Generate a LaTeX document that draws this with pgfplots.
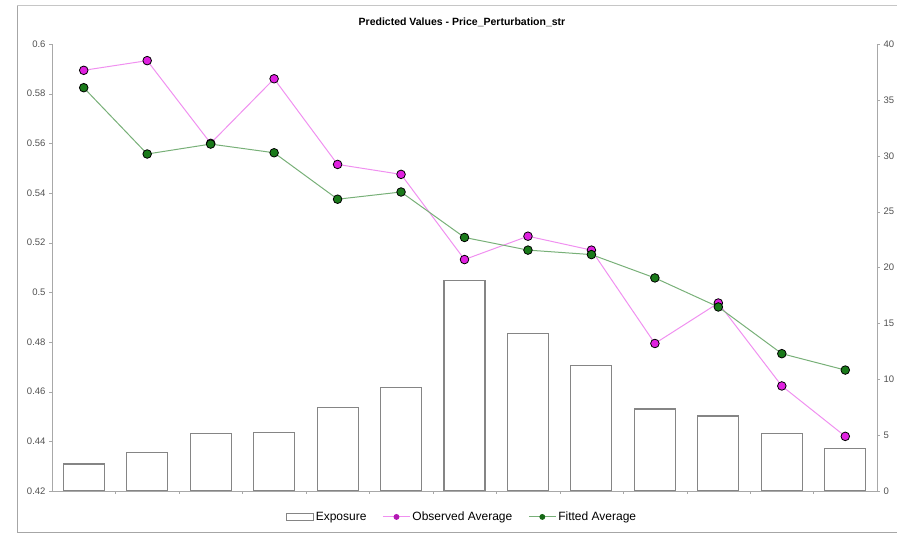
\documentclass[border=0pt]{standalone}
\usepackage{pgfplots}
\pgfplotsset{compat=1.18}
\usepackage{fontspec}
\setmainfont{Liberation Sans}
\definecolor{obsfill}{HTML}{E020E0}
\definecolor{obsline}{HTML}{F090F0}
\definecolor{fitfill}{HTML}{1A7A1A}
\definecolor{fitline}{HTML}{78B078}
\definecolor{axgray}{HTML}{A8A8A8}
\definecolor{bargray}{HTML}{858585}
\definecolor{labgray}{HTML}{505050}
\pgfplotstableread{
x exposure observed fitted
1 2.42 0.5894 0.5824
2 3.46 0.5933 0.5557
3 5.16 0.5600 0.5597
4 5.25 0.5860 0.5562
5 7.49 0.5515 0.5375
6 9.25 0.5475 0.5404
7 18.8 0.5132 0.5221
8 14.1 0.5226 0.5170
9 11.19 0.5170 0.5152
10 7.34 0.4794 0.5058
11 6.71 0.4957 0.4941
12 5.16 0.4623 0.4753
13 3.79 0.4420 0.4687
}\datatable
\begin{document}
\begin{tikzpicture}
\useasboundingbox (0,0) rectangle (897pt,535pt);
\draw[gray!70, line width=1pt] (897pt,2pt) -- (17pt,2pt) -- (17pt,529pt);
\draw[gray!45, line width=1pt] (17pt,529pt) -- (897pt,529pt);
\node[font=\fontsize{10.5}{12}\selectfont\bfseries] at (462pt,513pt) {Predicted Values - Price\_Perturbation\_str};
\begin{axis}[
  at={(52pt,44pt)}, anchor=south west, scale only axis,
  width=825pt, height=447pt,
  xmin=0.5, xmax=13.5, ymin=0, ymax=40,
  axis x line*=bottom, axis y line*=right,
  axis line style={axgray, -},
  xtick={1.5,2.5,...,12.5}, xticklabels={},
  ytick={0,5,10,15,20,25,30,35,40},
  tick align=outside, major tick length=3pt,
  tick style={axgray},
  yticklabel style={font=\fontsize{9.5}{11}\selectfont, text=labgray},
  /pgf/number format/assume math mode=true,
  ybar, bar width=41pt,
]
\addplot[draw=bargray, fill=white, line width=1.1pt] table[x=x, y=exposure] {\datatable};
\end{axis}
\begin{axis}[
  at={(52pt,44pt)}, anchor=south west, scale only axis,
  width=825pt, height=447pt,
  xmin=0.5, xmax=13.5, ymin=0.42, ymax=0.6,
  hide x axis, axis y line*=left,
  axis line style={axgray, -},
  ytick={0.42,0.44,0.46,0.48,0.5,0.52,0.54,0.56,0.58,0.6},
  yticklabels={0.42,0.44,0.46,0.48,0.5,0.52,0.54,0.56,0.58,0.6},
  tick align=outside, major tick length=3pt,
  tick style={axgray},
  yticklabel style={font=\fontsize{9.5}{11}\selectfont, text=labgray},
  legend style={at={(0.497,-0.058)}, anchor=center, draw=none, fill=none,
    font=\fontsize{12}{14}\selectfont, legend columns=3,
    /tikz/every even column/.append style={column sep=14pt},
    inner xsep=1pt},
]
\addlegendimage{legend image code/.code={\draw[bargray, fill=white, line width=0.9pt] (0pt,-3.5pt) rectangle (27pt,3.5pt);}}
\addlegendentry{Exposure}
\addplot[obsline, line width=1pt, mark=*, mark size=4.3pt, mark options={fill=obsfill, draw=black, line width=0.8pt},
  legend image code/.code={\draw[obsline, line width=1pt] (0pt,0pt) -- (27pt,0pt); \fill[obsfill!80!black] (13.5pt,0pt) circle (2.4pt);}] table[x=x, y=observed] {\datatable};
\addlegendentry{Observed Average}
\addplot[fitline, line width=1pt, mark=*, mark size=4.3pt, mark options={fill=fitfill, draw=black, line width=0.8pt},
  legend image code/.code={\draw[fitline, line width=1pt] (0pt,0pt) -- (27pt,0pt); \fill[fitfill!85!black] (13.5pt,0pt) circle (2.4pt);}] table[x=x, y=fitted] {\datatable};
\addlegendentry{Fitted Average}
\end{axis}
\end{tikzpicture}
\end{document}
